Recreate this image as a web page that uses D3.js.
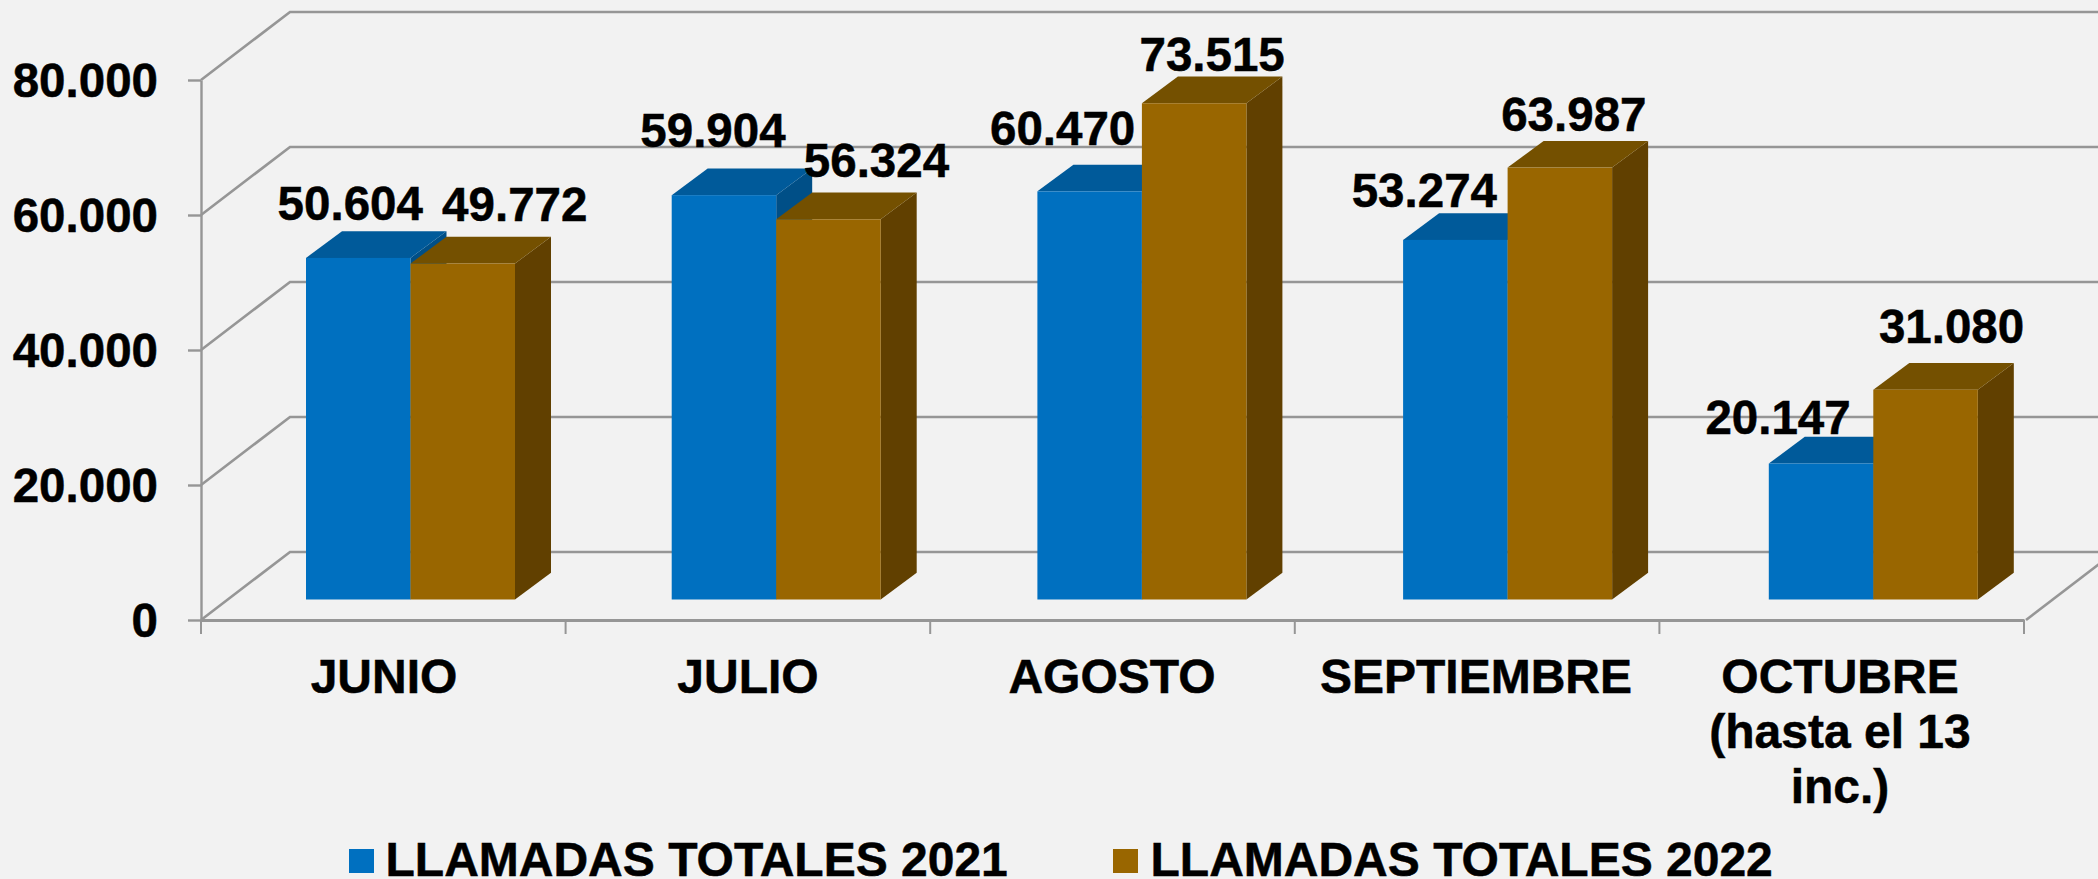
<!DOCTYPE html>
<html><head><meta charset="utf-8">
<script src="https://cdnjs.cloudflare.com/ajax/libs/d3/7.8.5/d3.min.js"></script>
<style>
html,body{margin:0;padding:0;background:#F2F2F2;overflow:hidden}
svg{display:block}
text{font-family:"Liberation Sans",Arial,sans-serif;font-weight:700;font-size:47.5px;fill:#000;stroke:#000;stroke-width:.5px}
text.wide{font-size:48px}
</style></head><body>
<svg id="c" width="2098" height="879"></svg>
<script>
const categories = [["JUNIO"],["JULIO"],["AGOSTO"],["SEPTIEMBRE"],["OCTUBRE","(hasta el 13","inc.)"]];
const seriesNames = ["LLAMADAS TOTALES 2021","LLAMADAS TOTALES 2022"];
const values2021 = [50604,59904,60470,53274,20147];
const values2022 = [49772,56324,73515,63987,31080];
const yTicks = [0,20000,40000,60000,80000];

// layout
const labelShift2021 = [[-8,-38],[-11,-48],[-27,-46],[-31,-33],[-43,-30]];
const labelShift2022 = [[52,-43],[48,-42],[18,-32],[14,-37],[26,-47]];
const W=2098,H=879;
const x0=201,x1=2024,yBase=620,yTop=80;
const wallDx=89,wallDy=-68;
const barDx=27,barDy=-20.5,depthDx=36,depthDy=-26.7;
const colors=[{f:"#0070C0",t:"#005A9A",s:"#004F87"},{f:"#996600",t:"#745000",s:"#614000"}];
const grid="#969696";

const svg=d3.select("#c");
svg.append("rect").attr("width",W).attr("height",H).attr("fill","#F2F2F2");

const y=d3.scaleLinear().domain([0,80000]).range([yBase,yTop]);
const idx=d3.range(categories.length);
const xCat=d3.scaleBand().domain(idx).range([x0,x1]);
const xGroup=d3.scaleBand().domain(idx).range([306-130.35,306-130.35+365.7*5]).paddingInner(0).paddingOuter(0);
const barW=104.5;
const fmt=d3.formatLocale({decimal:",",thousands:".",grouping:[3],currency:["",""]}).format(",d");

// walls
const g=svg.append("g").attr("fill","none").attr("stroke",grid).attr("stroke-width",2.6);
yTicks.forEach(v=>{
  g.append("path").attr("d",`M${x0},${y(v)}L${x0+wallDx},${y(v)+wallDy}L${W+2},${y(v)+wallDy}`);
});
g.append("line").attr("x1",x1+2).attr("y1",yBase).attr("x2",W+2).attr("y2",yBase+wallDy*(W+2-x1-2)/wallDx);

// axes
const yAxis=svg.append("g").attr("transform",`translate(${x0},0)`)
  .call(d3.axisLeft(y).tickValues(yTicks).tickSize(13).tickSizeOuter(0).tickFormat(fmt));
yAxis.selectAll("path,line").attr("stroke",grid).attr("stroke-width",2.4);
yAxis.selectAll("text").attr("x",-43).attr("dy",null).attr("y",16.5);
yAxis.attr("font-family",null).attr("font-size",null);

const xAxis=svg.append("g").attr("transform",`translate(0,${yBase})`)
  .call(d3.axisBottom(xCat).tickValues([]).tickSize(0).tickSizeOuter(0));
xAxis.selectAll("path").attr("stroke",grid).attr("stroke-width",2.8);
xAxis.selectAll(".cat-tick").data(d3.range(categories.length+1)).join("line")
  .attr("x1",d=>x0+d*xCat.step()).attr("x2",d=>x0+d*xCat.step())
  .attr("y1",0).attr("y2",14).attr("stroke",grid).attr("stroke-width",2);
xAxis.attr("font-family",null).attr("font-size",null);

// bars
const poly=p=>"M"+p.map(q=>q.join(",")).join("L")+"Z";
const barsG=svg.append("g");
const labels=[];
idx.forEach(i=>{
  [values2021,values2022].forEach((vals,s)=>{
    const v=vals[i];
    const l=xGroup(i)+130.35+s*barW, r=l+barW;
    const yb=y(0)+barDy, yt=y(v)+barDy;
    const c=colors[s];
    const b=barsG.append("g");
    b.append("path").attr("fill",c.s).attr("d",poly([[r,yt],[r+depthDx,yt+depthDy],[r+depthDx,yb+depthDy],[r,yb]]));
    b.append("path").attr("fill",c.t).attr("d",poly([[l,yt],[l+depthDx,yt+depthDy],[r+depthDx,yt+depthDy],[r,yt]]));
    b.append("rect").attr("fill",c.f).attr("x",l).attr("y",yt).attr("width",barW).attr("height",yb-yt);
    const sh=(s?labelShift2022:labelShift2021)[i];
    labels.push({x:l+barW/2+sh[0],y:yt+sh[1],t:fmt(v)});
  });
});
svg.append("g").selectAll("text").data(labels).join("text")
  .attr("text-anchor","middle").attr("x",d=>d.x).attr("y",d=>d.y).text(d=>d.t);

// category labels
const catG=svg.append("g");
categories.forEach((lines,i)=>{
  lines.forEach((t,j)=>{
    catG.append("text").attr("class","wide").attr("text-anchor","middle")
      .attr("x",384+i*364)
      .attr("y",693+j*55).text(t);
  });
});

// legend
const legendX=[349,1113], legendTextX=[385.5,1150.5];
seriesNames.forEach((n,s)=>{
  svg.append("rect").attr("x",legendX[s]).attr("y",849).attr("width",25).attr("height",24).attr("fill",colors[s].f);
  svg.append("text").attr("class","wide").attr("x",legendTextX[s]).attr("y",876).text(n);
});
</script>
</body></html>
